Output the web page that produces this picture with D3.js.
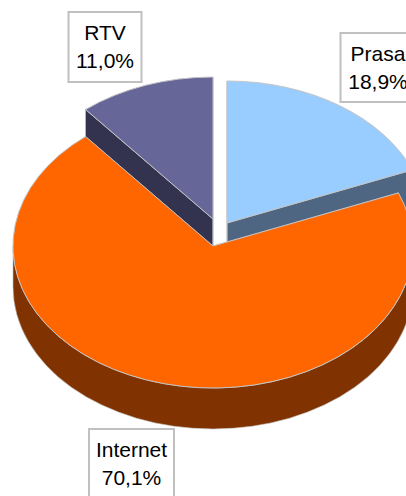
<!DOCTYPE html>
<html>
<head>
<meta charset="utf-8">
<style>
  html, body { margin: 0; padding: 0; background: #fff; overflow: hidden; }
  svg { display: block; }
  .edge { vector-effect: non-scaling-stroke; }
</style>
<script src="https://cdnjs.cloudflare.com/ajax/libs/d3/7.8.5/d3.min.js"></script>
</head>
<body>
<script>
const w = 406;
const h = 496;

const names = ["Prasa", "Internet", "RTV"];
const shares = [18.9, 70.1, 11.0];
const shareLabels = ["18,9%", "70,1%", "11,0%"];
const topColors = ["#99ccff", "#ff6600", "#666699"];
const sideColors = ["#4f6682", "#803300", "#33334f"];

const cx = 213;
const cy = 246;
const rx = 200;
const ry = 142;
const depth = 41;
const edgeColor = "#c4c4c4";

// how far each slice is pulled out of the pie, in pixels
const pull = [[14, -23], [0, 0], [0, -27]];
// label box centre x, top y, and box size
const boxes = [[378, 33, 75, 69], [131.5, 429, 85, 72], [105, 12, 73, 70]];

const svg = d3
  .select("body")
  .append("svg")
  .attr("width", w)
  .attr("height", h);

const slices = d3.pie().sort(null)(shares);
const arc = d3.arc().innerRadius(0).outerRadius(1);
const unitDepth = depth / ry;

// side walls, in the unit circle space of the scaled groups
function wallPath(d) {
  const p = d3.path();
  // cut faces
  [d.startAngle, d.endAngle].forEach(a => {
    const x = Math.sin(a);
    const y = -Math.cos(a);
    p.moveTo(0, 0);
    p.lineTo(x, y);
    p.lineTo(x, y + unitDepth);
    p.lineTo(0, unitDepth);
    p.closePath();
  });
  // outer rim, only the front half can be seen
  const a0 = Math.max(d.startAngle, Math.PI / 2);
  const a1 = Math.min(d.endAngle, (3 * Math.PI) / 2);
  if (a1 > a0) {
    p.moveTo(Math.sin(a0), -Math.cos(a0));
    p.arc(0, 0, 1, a0 - Math.PI / 2, a1 - Math.PI / 2);
    p.lineTo(Math.sin(a1), -Math.cos(a1) + unitDepth);
    p.arc(0, unitDepth, 1, a1 - Math.PI / 2, a0 - Math.PI / 2, true);
    p.closePath();
  }
  return p.toString();
}

function placeSlice(i) {
  return "translate(" + (cx + pull[i][0]) + "," + (cy + pull[i][1]) + ") scale(" + rx + "," + ry + ")";
}

// pulled out slices first, the big one covers their lower parts
const order = [2, 0, 1];

order.forEach(i => {
  const g = svg.append("g").attr("transform", placeSlice(i));
  g.append("path")
    .attr("class", "edge")
    .attr("d", wallPath(slices[i]))
    .attr("fill", sideColors[i])
    .attr("stroke", edgeColor)
    .attr("stroke-width", 0.6);
  g.append("path")
    .attr("class", "edge")
    .attr("d", arc(slices[i]))
    .attr("fill", topColors[i])
    .attr("stroke", edgeColor)
    .attr("stroke-width", 1);
});

// labels
names.forEach((name, i) => {
  const [bx, by, bw, bh] = boxes[i];
  svg
    .append("rect")
    .attr("x", bx - bw / 2)
    .attr("y", by)
    .attr("width", bw)
    .attr("height", bh)
    .attr("fill", "#fff")
    .attr("stroke", "#c0c0c0")
    .attr("stroke-width", 2);
  [name, shareLabels[i]].forEach((line, k) => {
    svg
      .append("text")
      .attr("x", bx)
      .attr("y", by + 28 + k * 28)
      .attr("text-anchor", "middle")
      .style("font-family", "'Liberation Sans', Arial, sans-serif")
      .style("font-size", "21px")
      .attr("fill", "#000")
      .text(line);
  });
});
</script>
</body>
</html>
